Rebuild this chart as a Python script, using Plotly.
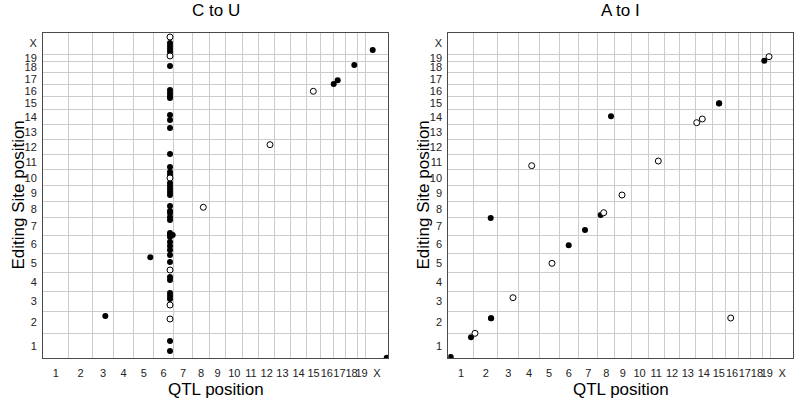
import numpy as np
import plotly.graph_objects as go

# Chromosome layout (mouse, Mb)
chrom_names = ["1", "2", "3", "4", "5", "6", "7", "8", "9", "10",
               "11", "12", "13", "14", "15", "16", "17", "18", "19", "X"]
chrom_lengths_mb = [195.5, 182.1, 160.0, 156.5, 151.8, 149.7, 145.4, 129.4, 124.6, 130.7,
                    122.1, 120.1, 120.4, 124.9, 104.0, 98.2, 95.0, 90.7, 61.4, 171.0]

# ---- C to U panel ----
cu_qtl_chr = ["6"] * 31 + ["6"] + ["6"] * 16 + ["5", "3", "X", "X", "18", "17", "17", "15", "12", "8"]
cu_qtl_mb = [123.6] * 30 + [144.2] + [123.6] * 17 + [124.9, 98.0, 161.2, 54.3, 65.9, 34.2, 3.6, 50.2, 85.0, 82.7]
cu_site_chr = ["X", "X", "X", "X", "X", "19", "18", "16", "16", "16", "15", "14", "14", "13", "12",
               "11", "10", "10", "10", "10", "9", "9", "9", "9", "8", "8", "8", "8", "7", "7", "7",
               "7", "6", "6", "6", "6", "5", "5", "5", "4", "4", "3", "3", "3", "3", "2", "1", "1",
               "5", "2", "1", "X", "18", "17", "17", "16", "12", "8"]
cu_site_mb = [138.6, 90.2, 65.9, 41.5, 17.2, 46.2, 55.9, 54.6, 30.3, 6.0, 93.8, 80.9, 40.4, 96.0, 5.4,
              22.1, 112.3, 88.0, 63.7, 23.2, 123.4, 99.1, 74.8, 50.5, 90.8, 50.2, 34.0, 1.6, 122.7, 17.4, 1.2,
              5.0, 134.7, 94.1, 61.7, 29.3, 140.6, 83.9, 19.0, 118.8, 94.5, 149.1, 124.8, 100.5, 51.9, 120.5, 137.8, 56.7,
              121.9, 144.9, 2.4, 33.5, 64.0, 35.0, 5.0, 44.1, 80.7, 80.2]
cu_filled = [0, 1, 1, 1, 1, 0, 1, 1, 1, 1, 1, 1, 1, 1, 1,
             1, 1, 1, 0, 1, 1, 1, 1, 1, 1, 1, 1, 1, 1, 1, 1,
             1, 1, 1, 1, 1, 1, 1, 0, 1, 1, 1, 1, 1, 0, 0, 1, 1,
             1, 1, 1, 1, 1, 1, 1, 0, 0, 0]

# ---- A to I panel ----
ai_qtl_chr = ["19", "19", "15", "15", "8", "14", "14", "4", "11", "9", "2", "8", "8", "7",
              "6", "5", "3", "2", "2", "16", "2", "1", "1"]
ai_qtl_mb = [11.1, 47.0, 53.2, 54.5, 101.0, 7.9, 50.6, 99.0, 77.4, 55.6, 128.2, 22.4, 45.3, 47.9,
             73.2, 97.5, 116.3, 130.5, 131.5, 38.5, 8.3, 173.3, 18.3]
ai_site_chr = ["19", "19", "15", "15", "14", "14", "14", "11", "11", "9", "7", "8", "8", "7",
               "6", "5", "3", "2", "2", "2", "2", "1", "1"]
ai_site_mb = [8.0, 40.4, 50.0, 50.8, 70.2, 18.4, 48.4, 32.5, 70.6, 50.4, 139.2, 18.1, 36.4, 41.6,
              67.3, 73.3, 111.0, 126.2, 127.5, 128.6, 4.6, 167.7, 8.1]
ai_filled = [1, 0, 1, 1, 1, 0, 0, 0, 0, 0, 1, 1, 0, 1,
             1, 0, 0, 1, 1, 0, 0, 1, 1]

# ---- genome coordinates ----
offsets = dict(zip(chrom_names, np.concatenate([[0], np.cumsum(chrom_lengths_mb)[:-1]])))
total = float(np.sum(chrom_lengths_mb))
bounds = list(np.cumsum(chrom_lengths_mb)[:-1])
centers = [offsets[c] + l / 2 for c, l in zip(chrom_names, chrom_lengths_mb)]


def genome(chrs, mbs):
    return [offsets[c] + m for c, m in zip(chrs, mbs)]


FONT = "Arial, Liberation Sans, sans-serif"
fig = go.Figure()


def add_panel(qc, qm, sc, sm, filled, xa, ya):
    gx = genome(qc, qm)
    gy = genome(sc, sm)
    fx = [x for x, f in zip(gx, filled) if f]
    fy = [y for y, f in zip(gy, filled) if f]
    ox = [x for x, f in zip(gx, filled) if not f]
    oy = [y for y, f in zip(gy, filled) if not f]
    fig.add_trace(go.Scatter(x=fx, y=fy, mode="markers", xaxis=xa, yaxis=ya,
                             marker=dict(color="black", size=6, line=dict(width=0)),
                             showlegend=False, hoverinfo="skip"))
    fig.add_trace(go.Scatter(x=ox, y=oy, mode="markers", xaxis=xa, yaxis=ya,
                             marker=dict(color="white", size=6, line=dict(color="black", width=1)),
                             showlegend=False, hoverinfo="skip"))


add_panel(cu_qtl_chr, cu_qtl_mb, cu_site_chr, cu_site_mb, cu_filled, "x", "y")
add_panel(ai_qtl_chr, ai_qtl_mb, ai_site_chr, ai_site_mb, ai_filled, "x2", "y2")

W, H = 795, 401
ytop, ybot = 1 - 33 / H, 1 - 358 / H


def axis_common():
    return dict(range=[0, total], tickmode="array", tickvals=centers, ticktext=chrom_names,
                showgrid=False, zeroline=False, ticks="", tickangle=0,
                showline=True, mirror=True, linecolor="#4a4a4a", linewidth=1,
                tickfont=dict(family=FONT, size=11, color="#222"),
                minor=dict(tickmode="array", tickvals=bounds, showgrid=True,
                           gridcolor="#cccccc", gridwidth=1, ticks=""),
                fixedrange=True)


xa1 = axis_common(); xa1.update(domain=[43 / W, 388 / W], anchor="y", ticklabelstandoff=5)
xa2 = axis_common(); xa2.update(domain=[448.3 / W, 793.3 / W], anchor="y2", ticklabelstandoff=5)
ya1 = axis_common(); ya1.update(domain=[ybot, ytop], anchor="x", ticklabelstandoff=3)
ya2 = axis_common(); ya2.update(domain=[ybot, ytop], anchor="x2", ticklabelstandoff=3)

annots = []
for cx, title in [((43 + 388) / 2 / W, "C to U"), ((448.3 + 793.3) / 2 / W, "A to I")]:
    annots.append(dict(x=cx, y=1 - 11 / H, xref="paper", yref="paper", text=title,
                       showarrow=False, font=dict(family=FONT, size=17, color="black"),
                       xanchor="center", yanchor="middle"))
    annots.append(dict(x=cx, y=1 - 389 / H, xref="paper", yref="paper", text="QTL position",
                       showarrow=False, font=dict(family=FONT, size=17, color="black"),
                       xanchor="center", yanchor="middle"))
for cx in [18 / W, 423 / W]:
    annots.append(dict(x=cx, y=(ytop + ybot) / 2, xref="paper", yref="paper",
                       text="Editing Site position", textangle=-90, showarrow=False,
                       font=dict(family=FONT, size=17, color="black"),
                       xanchor="center", yanchor="middle"))

fig.update_layout(width=W, height=H, margin=dict(l=0, r=0, t=0, b=0),
                  paper_bgcolor="white", plot_bgcolor="white",
                  xaxis=xa1, yaxis=ya1, xaxis2=xa2, yaxis2=ya2,
                  annotations=annots, showlegend=False)

fig.write_html("out.html", config={"displayModeBar": False},
               post_script="document.body.style.margin='0px';document.body.style.overflow='hidden';")
